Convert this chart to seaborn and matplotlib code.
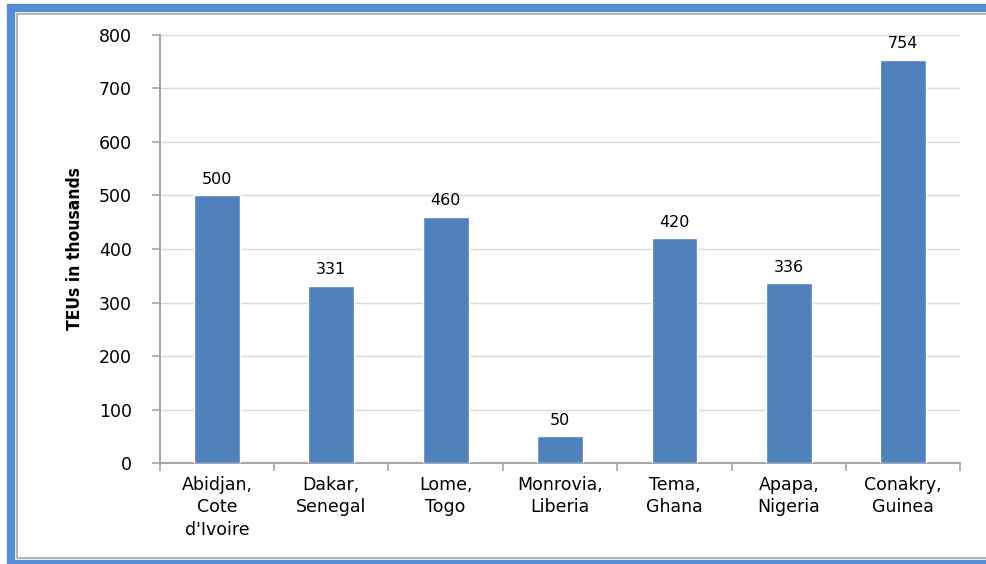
import pandas as pd
import matplotlib.pyplot as plt
import seaborn as sns
import numpy as np
from matplotlib.patches import Rectangle

ports = ['Abidjan,\nCote\nd\'Ivoire', 'Dakar,\nSenegal', 'Lome,\nTogo', 'Monrovia,\nLiberia',
         'Tema,\nGhana', 'Apapa,\nNigeria', 'Conakry,\nGuinea']
teus = [500, 331, 460, 50, 420, 336, 754]
y_ticks = [0, 100, 200, 300, 400, 500, 600, 700, 800]

df = pd.DataFrame({'port': ports, 'teus': teus})

sns.set_style('white')
plt.rcParams['font.family'] = ['DejaVu Sans']
plt.rcParams['text.color'] = 'black'
plt.rcParams['axes.labelcolor'] = 'black'
plt.rcParams['xtick.labelcolor'] = 'black'
plt.rcParams['ytick.labelcolor'] = 'black'

fig = plt.figure(figsize=(9.86, 5.64), dpi=100)
ax = fig.add_axes([0.162, 0.179, 0.812, 0.759])

sns.barplot(data=df, x='port', y='teus', color='#4F81BD', saturation=1, width=0.4, ax=ax, zorder=3)

ax.set_ylim(0, 800)
ax.set_xlim(-0.5, len(ports) - 0.5)
ax.set_yticks(y_ticks)
ax.set_yticklabels([str(v) for v in y_ticks], fontsize=12.5)
ax.grid(axis='y', color='#D9D9D9', linewidth=1, zorder=0)
ax.set_xlabel('')
ax.set_ylabel('TEUs in thousands', fontsize=12.5, fontweight='bold',
              family=['DejaVu Sans Condensed', 'Liberation Sans Narrow', 'DejaVu Sans'],
              fontstretch='condensed', labelpad=11)

# category labels, ticks on boundaries
ax.tick_params(axis='x', which='major', length=0, labelsize=12.5, pad=9)
for lbl in ax.get_xticklabels():
    lbl.set_linespacing(1.35)
ax.set_xticks(np.arange(-0.5, len(ports)), minor=True)
ax.tick_params(axis='x', which='minor', length=6, color='#A6A6A6', width=1.2, direction='out')
ax.tick_params(axis='y', length=6, color='#A6A6A6', width=1.2, direction='out', pad=14)
ax.xaxis.set_ticks_position('bottom')
ax.yaxis.set_ticks_position('left')

for s in ['top', 'right']:
    ax.spines[s].set_visible(False)
for s in ['left', 'bottom']:
    ax.spines[s].set_color('#A6A6A6')
    ax.spines[s].set_linewidth(1.5)

for i, v in enumerate(teus):
    ax.text(i, v + 16, str(v), ha='center', va='bottom', fontsize=11.5, color='black')

# blue frame around the figure
fig.patches.append(Rectangle((0.011, 0.0), 1.2, 0.985, transform=fig.transFigure,
                             fill=False, edgecolor='#558ED5', linewidth=6, zorder=10))
fig.patches.append(Rectangle((0.017, 0.01), 1.2, 0.966, transform=fig.transFigure,
                             fill=False, edgecolor='#A6A6A6', linewidth=1.2, zorder=10))

fig.savefig('out.png', dpi=100)
